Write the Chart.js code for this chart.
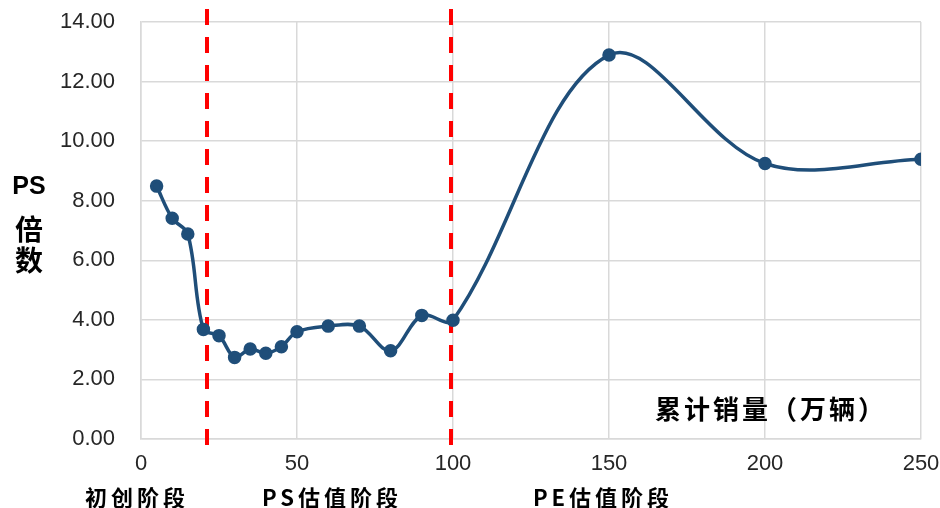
<!DOCTYPE html>
<html>
<head>
<meta charset="utf-8">
<script src="https://cdn.jsdelivr.net/npm/chart.js@4"></script>
<style>
html,body{margin:0;padding:0;background:#fff;}
#wrap{position:relative;width:940px;height:508px;}
canvas{display:block;}
</style>
</head>
<body>
<div id="wrap"><canvas id="c" width="940" height="508"></canvas></div>
<script>
// ---- data ----
const salesVolume = [5, 10, 15, 20, 25, 30, 35, 40, 45, 50, 60, 70, 80, 90, 100, 150, 200, 250];
const psMultiple  = [8.49, 7.41, 6.88, 3.68, 3.47, 2.74, 3.02, 2.88, 3.10, 3.60, 3.79, 3.79, 2.96, 4.15, 3.99, 12.89, 9.25, 9.39];
const stageBoundaries = [21.1, 99.3];
const stageLabels = ['初创阶段', 'PS估值阶段', 'PE估值阶段'];
const yTitle = ['PS', '倍', '数'];
const xTitle = '累计销量（万辆）';
const xTicks = [0, 50, 100, 150, 200, 250];
const yTicks = [0, 2, 4, 6, 8, 10, 12, 14];

const points = salesVolume.map((x, i) => ({x: x, y: psMultiple[i]}));

const cjk = '"Noto Sans CJK SC", "Noto Sans", sans-serif';

const overlay = {
  id: 'overlay',
  beforeDatasetsDraw(chart) {
    const ctx = chart.ctx, xs = chart.scales.x, a = chart.chartArea;
    ctx.save();
    ctx.strokeStyle = '#ff0000';
    ctx.lineWidth = 4;
    ctx.setLineDash([16, 12]);
    stageBoundaries.forEach(v => {
      const px = Math.round(xs.getPixelForValue(v));
      ctx.beginPath();
      ctx.moveTo(px, a.top - 13);
      ctx.lineTo(px, a.bottom + 6);
      ctx.stroke();
    });
    ctx.restore();
  },
  afterDraw(chart) {
    const ctx = chart.ctx, a = chart.chartArea;
    ctx.save();
    ctx.fillStyle = '#000';
    ctx.textBaseline = 'middle';
    ctx.textAlign = 'center';
    // y title (stacked)
    ctx.font = 'bold 25px "Liberation Sans", Arial, sans-serif';
    ctx.fillText(yTitle[0], 29, 187);
    ctx.font = 'bold 28px ' + cjk;
    ctx.fillText(yTitle[1], 29, 229);
    ctx.fillText(yTitle[2], 29, 260);
    // stage labels
    ctx.font = 'bold 22px ' + cjk;
    try { ctx.letterSpacing = '4px'; } catch (e) {}
    const stageX = [135, 330, 601];
    stageLabels.forEach((t, i) => ctx.fillText(t, stageX[i] + 2, 498));
    // x title inside plot
    ctx.font = 'bold 26px ' + cjk;
    try { ctx.letterSpacing = '3px'; } catch (e) {}
    ctx.fillText(xTitle, 771, 409);
    ctx.restore();
  }
};

new Chart(document.getElementById('c'), {
  type: 'line',
  data: {
    datasets: [{
      data: points,
      borderColor: '#1f4e79',
      backgroundColor: '#1f4e79',
      borderWidth: 3.5,
      pointRadius: 5,
      pointHoverRadius: 5,
      pointBackgroundColor: '#1f4e79',
      pointBorderColor: '#1f4e79',
      tension: 0.35,
      fill: false
    }]
  },
  options: {
    responsive: false,
    animation: false,
    devicePixelRatio: 1,
    layout: {padding: {top: 22, right: 19, bottom: 0, left: 0}},
    plugins: {legend: {display: false}, tooltip: {enabled: false}},
    scales: {
      x: {
        type: 'linear',
        min: xTicks[0], max: xTicks[xTicks.length - 1],
        afterBuildTicks(s) { s.ticks = xTicks.map(v => ({value: v})); },
        afterFit(s) { s.height = 69; s.paddingLeft = 0; s.paddingRight = 0; },
        grid: {color: '#d9d9d9', lineWidth: 1.5, drawTicks: false},
        border: {color: '#d9d9d9', width: 1.5},
        ticks: {color: '#262626', font: {size: 22, family: '"Liberation Sans", Arial, sans-serif'}, padding: 12, maxRotation: 0}
      },
      y: {
        min: yTicks[0], max: yTicks[yTicks.length - 1],
        afterBuildTicks(s) { s.ticks = yTicks.map(v => ({value: v})); },
        afterFit(s) { s.width = 141; s.paddingTop = 0; s.paddingBottom = 0; },
        grid: {color: '#d9d9d9', lineWidth: 1.5, drawTicks: false},
        border: {color: '#d9d9d9', width: 1.5},
        ticks: {color: '#262626', font: {size: 22, family: '"Liberation Sans", Arial, sans-serif'}, padding: 26,
          callback: v => Number(v).toFixed(2)}
      }
    }
  },
  plugins: [overlay]
});
</script>
</body>
</html>
